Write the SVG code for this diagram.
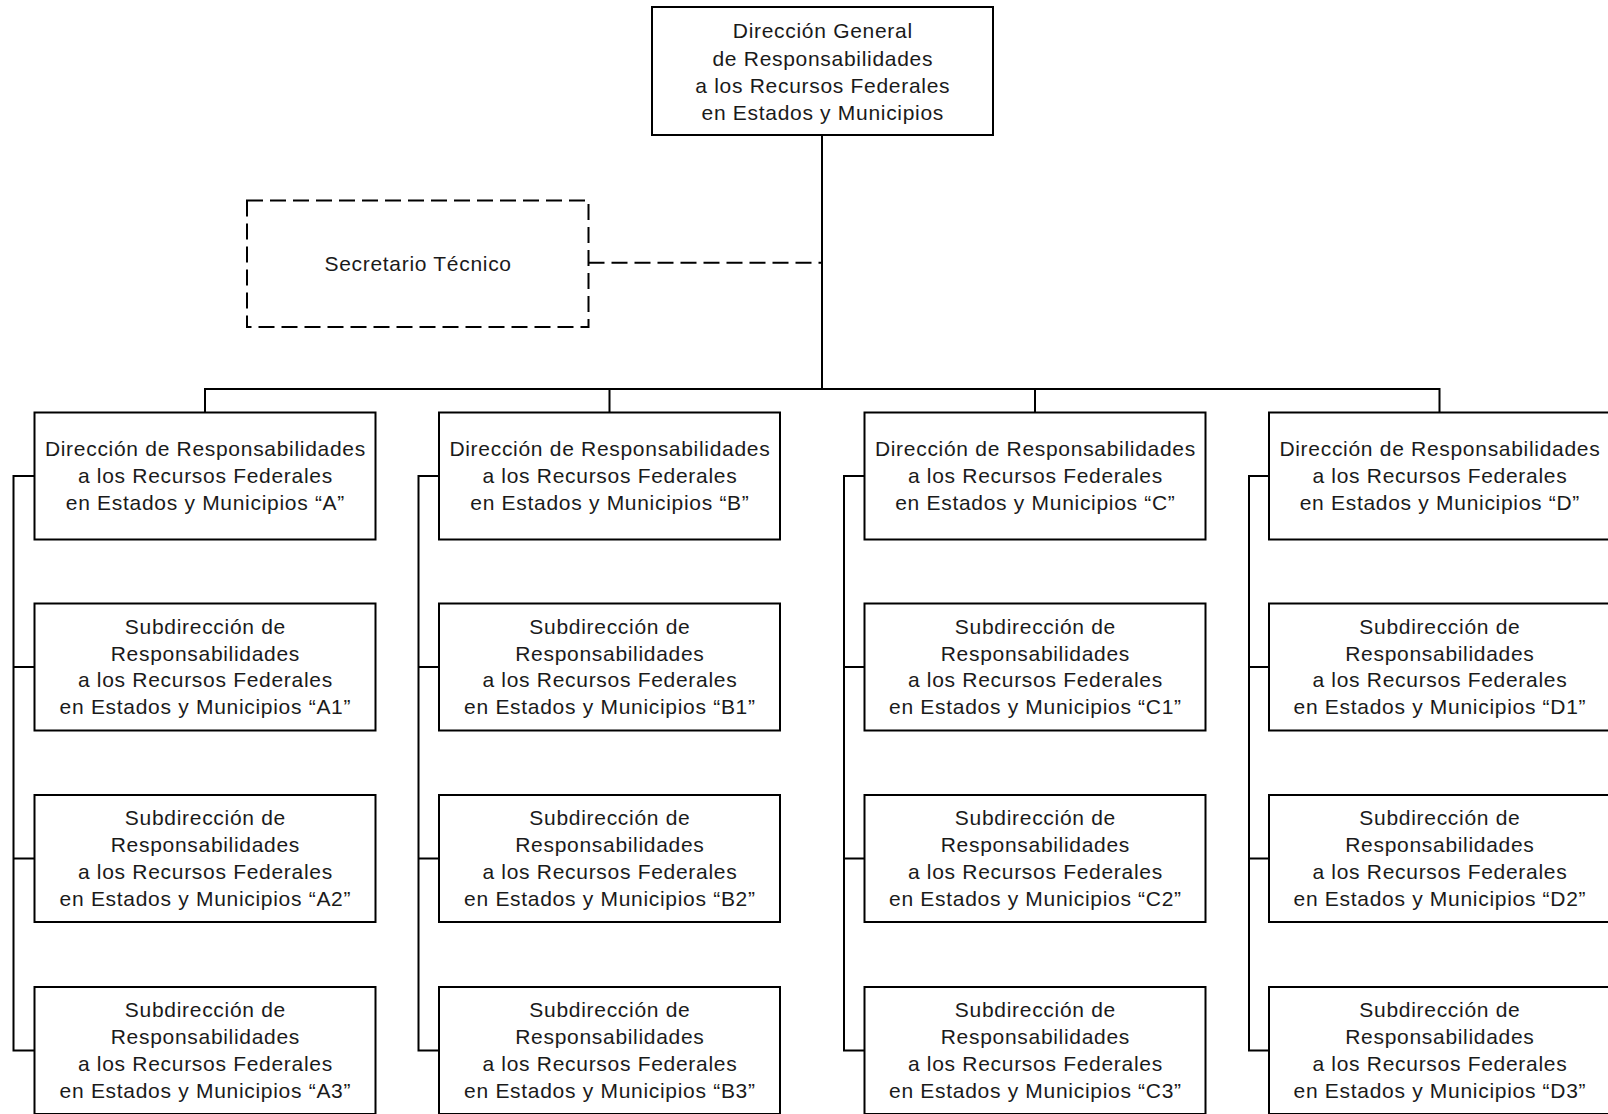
<svg xmlns="http://www.w3.org/2000/svg" width="1608" height="1114" viewBox="0 0 1608 1114">
<style>
.box{fill:#fff;stroke:#000;stroke-width:2}
.dbox{fill:#fff;stroke:#000;stroke-width:2;stroke-dasharray:16 7}
.ln{fill:none;stroke:#000;stroke-width:2}
.dl{fill:none;stroke:#000;stroke-width:2;stroke-dasharray:16 7}
.t{font-family:"Liberation Sans",Arial,sans-serif;font-size:21px;letter-spacing:0.7px;text-anchor:middle;fill:#1a1a1a}
</style>
<rect width="1608" height="1114" fill="#fff"/>
<g id="connectors">
<path class="ln" d="M822 135 V389"/>
<path class="ln" d="M205 412.5 V389 H1439.5 V412.5 M609.5 389 V412.5 M1035 389 V412.5"/>
<path class="dl" d="M588.5 262.7 H822"/>
<path class="ln" d="M34.5 476 H13.5 V1050.5 H34.5 M13.5 667 H34.5 M13.5 858.5 H34.5"/>
<path class="ln" d="M439 476 H418.5 V1050.5 H439 M418.5 667 H439 M418.5 858.5 H439"/>
<path class="ln" d="M864.5 476 H844 V1050.5 H864.5 M844 667 H864.5 M844 858.5 H864.5"/>
<path class="ln" d="M1269 476 H1249 V1050.5 H1269 M1249 667 H1269 M1249 858.5 H1269"/>
</g>
<g id="dg">
<rect class="box" x="652" y="7" width="341" height="128"/>
<text class="t"><tspan x="822.8" y="38.3">Dirección General</tspan><tspan x="822.8" y="65.6">de Responsabilidades</tspan><tspan x="822.8" y="92.9">a los Recursos Federales</tspan><tspan x="822.8" y="120.2">en Estados y Municipios</tspan></text>
</g>
<g id="secretario">
<rect class="dbox" x="247" y="200.5" width="341.5" height="126.5"/>
<text class="t" x="418.1" y="270.8">Secretario Técnico</text>
</g>
<g id="dir-A">
<rect class="box" x="34.5" y="412.5" width="341" height="127"/>
<text class="t"><tspan x="205.4" y="456.2">Dirección de Responsabilidades</tspan><tspan x="205.4" y="483">a los Recursos Federales</tspan><tspan x="205.4" y="509.8">en Estados y Municipios “A”</tspan></text>
</g>
<g id="sub-A1">
<rect class="box" x="34.5" y="603.5" width="341" height="127"/>
<text class="t"><tspan x="205.4" y="633.8">Subdirección de</tspan><tspan x="205.4" y="660.6">Responsabilidades</tspan><tspan x="205.4" y="687.4">a los Recursos Federales</tspan><tspan x="205.4" y="714.2">en Estados y Municipios “A1”</tspan></text>
</g>
<g id="sub-A2">
<rect class="box" x="34.5" y="795" width="341" height="127"/>
<text class="t"><tspan x="205.4" y="825.3">Subdirección de</tspan><tspan x="205.4" y="852.1">Responsabilidades</tspan><tspan x="205.4" y="878.9">a los Recursos Federales</tspan><tspan x="205.4" y="905.7">en Estados y Municipios “A2”</tspan></text>
</g>
<g id="sub-A3">
<rect class="box" x="34.5" y="987" width="341" height="127"/>
<text class="t"><tspan x="205.4" y="1017.3">Subdirección de</tspan><tspan x="205.4" y="1044.1">Responsabilidades</tspan><tspan x="205.4" y="1070.9">a los Recursos Federales</tspan><tspan x="205.4" y="1097.7">en Estados y Municipios “A3”</tspan></text>
</g>
<g id="dir-B">
<rect class="box" x="439" y="412.5" width="341" height="127"/>
<text class="t"><tspan x="609.9" y="456.2">Dirección de Responsabilidades</tspan><tspan x="609.9" y="483">a los Recursos Federales</tspan><tspan x="609.9" y="509.8">en Estados y Municipios “B”</tspan></text>
</g>
<g id="sub-B1">
<rect class="box" x="439" y="603.5" width="341" height="127"/>
<text class="t"><tspan x="609.9" y="633.8">Subdirección de</tspan><tspan x="609.9" y="660.6">Responsabilidades</tspan><tspan x="609.9" y="687.4">a los Recursos Federales</tspan><tspan x="609.9" y="714.2">en Estados y Municipios “B1”</tspan></text>
</g>
<g id="sub-B2">
<rect class="box" x="439" y="795" width="341" height="127"/>
<text class="t"><tspan x="609.9" y="825.3">Subdirección de</tspan><tspan x="609.9" y="852.1">Responsabilidades</tspan><tspan x="609.9" y="878.9">a los Recursos Federales</tspan><tspan x="609.9" y="905.7">en Estados y Municipios “B2”</tspan></text>
</g>
<g id="sub-B3">
<rect class="box" x="439" y="987" width="341" height="127"/>
<text class="t"><tspan x="609.9" y="1017.3">Subdirección de</tspan><tspan x="609.9" y="1044.1">Responsabilidades</tspan><tspan x="609.9" y="1070.9">a los Recursos Federales</tspan><tspan x="609.9" y="1097.7">en Estados y Municipios “B3”</tspan></text>
</g>
<g id="dir-C">
<rect class="box" x="864.5" y="412.5" width="341" height="127"/>
<text class="t"><tspan x="1035.4" y="456.2">Dirección de Responsabilidades</tspan><tspan x="1035.4" y="483">a los Recursos Federales</tspan><tspan x="1035.4" y="509.8">en Estados y Municipios “C”</tspan></text>
</g>
<g id="sub-C1">
<rect class="box" x="864.5" y="603.5" width="341" height="127"/>
<text class="t"><tspan x="1035.4" y="633.8">Subdirección de</tspan><tspan x="1035.4" y="660.6">Responsabilidades</tspan><tspan x="1035.4" y="687.4">a los Recursos Federales</tspan><tspan x="1035.4" y="714.2">en Estados y Municipios “C1”</tspan></text>
</g>
<g id="sub-C2">
<rect class="box" x="864.5" y="795" width="341" height="127"/>
<text class="t"><tspan x="1035.4" y="825.3">Subdirección de</tspan><tspan x="1035.4" y="852.1">Responsabilidades</tspan><tspan x="1035.4" y="878.9">a los Recursos Federales</tspan><tspan x="1035.4" y="905.7">en Estados y Municipios “C2”</tspan></text>
</g>
<g id="sub-C3">
<rect class="box" x="864.5" y="987" width="341" height="127"/>
<text class="t"><tspan x="1035.4" y="1017.3">Subdirección de</tspan><tspan x="1035.4" y="1044.1">Responsabilidades</tspan><tspan x="1035.4" y="1070.9">a los Recursos Federales</tspan><tspan x="1035.4" y="1097.7">en Estados y Municipios “C3”</tspan></text>
</g>
<g id="dir-D">
<rect class="box" x="1269" y="412.5" width="341" height="127"/>
<text class="t"><tspan x="1439.9" y="456.2">Dirección de Responsabilidades</tspan><tspan x="1439.9" y="483">a los Recursos Federales</tspan><tspan x="1439.9" y="509.8">en Estados y Municipios “D”</tspan></text>
</g>
<g id="sub-D1">
<rect class="box" x="1269" y="603.5" width="341" height="127"/>
<text class="t"><tspan x="1439.9" y="633.8">Subdirección de</tspan><tspan x="1439.9" y="660.6">Responsabilidades</tspan><tspan x="1439.9" y="687.4">a los Recursos Federales</tspan><tspan x="1439.9" y="714.2">en Estados y Municipios “D1”</tspan></text>
</g>
<g id="sub-D2">
<rect class="box" x="1269" y="795" width="341" height="127"/>
<text class="t"><tspan x="1439.9" y="825.3">Subdirección de</tspan><tspan x="1439.9" y="852.1">Responsabilidades</tspan><tspan x="1439.9" y="878.9">a los Recursos Federales</tspan><tspan x="1439.9" y="905.7">en Estados y Municipios “D2”</tspan></text>
</g>
<g id="sub-D3">
<rect class="box" x="1269" y="987" width="341" height="127"/>
<text class="t"><tspan x="1439.9" y="1017.3">Subdirección de</tspan><tspan x="1439.9" y="1044.1">Responsabilidades</tspan><tspan x="1439.9" y="1070.9">a los Recursos Federales</tspan><tspan x="1439.9" y="1097.7">en Estados y Municipios “D3”</tspan></text>
</g>
</svg>
